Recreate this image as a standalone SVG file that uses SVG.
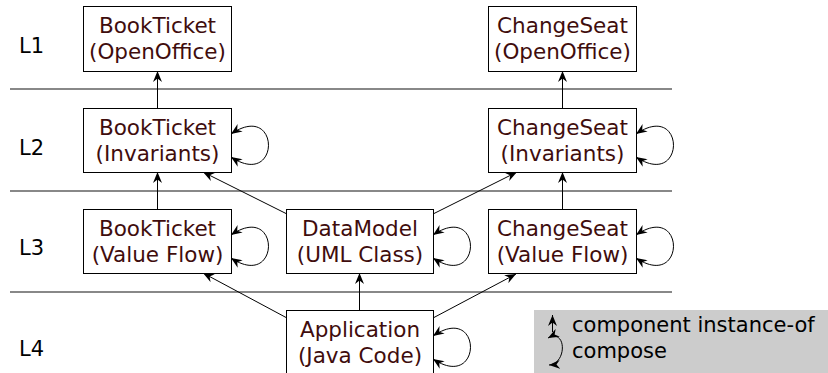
<svg xmlns="http://www.w3.org/2000/svg" width="828" height="373" viewBox="0 0 828 373">
<defs>
<marker id="ah" markerUnits="userSpaceOnUse" viewBox="0 0 11 9" refX="11" refY="4.5" markerWidth="11" markerHeight="9" orient="auto-start-reverse">
<path d="M0,0 L11,4.5 L0,9 L3.5,4.5 z" fill="#000"/>
</marker>
</defs>
<style>
.box{fill:#fff;stroke:#000;stroke-width:1}
.t{font-family:"DejaVu Sans",sans-serif;font-size:21.5px;fill:#3f0d0d;text-anchor:middle}
.lbl{font-family:"DejaVu Sans",sans-serif;font-size:21px;fill:#000}
.sep{stroke:#888;stroke-width:2}
.e{fill:none;stroke:#000;stroke-width:1;marker-end:url(#ah)}
.loop{fill:none;stroke:#000;stroke-width:1;marker-start:url(#ah);marker-end:url(#ah)}
</style>
<rect width="828" height="373" fill="#fff"/>
<g id="separators">
<line class="sep" x1="10" y1="89" x2="672" y2="89"/>
<line class="sep" x1="10" y1="191" x2="672" y2="191"/>
<line class="sep" x1="10" y1="292" x2="672" y2="292"/>
</g>
<g id="levels">
<text class="lbl" x="19" y="53">L1</text>
<text class="lbl" x="19" y="155">L2</text>
<text class="lbl" x="19" y="255">L3</text>
<text class="lbl" x="19" y="356">L4</text>
</g>
<g id="connectors">
<path class="e" d="M157.5,108 L157.5,71"/>
<path class="e" d="M562.5,108 L562.5,71"/>
<path class="e" d="M157.5,209 L157.5,172"/>
<path class="e" d="M562.5,209 L562.5,172"/>
<path class="e" d="M359.5,310 L359.5,273"/>
<path class="e" d="M287,214 L203,172"/>
<path class="e" d="M433,214 L517,172"/>
<path class="e" d="M287,318 L203,273"/>
<path class="e" d="M433,318 L516,274"/>
<path class="loop" d="M231,134 C281,100 281,190 231,157"/>
<path class="loop" d="M636,134 C686,100 686,190 636,157"/>
<path class="loop" d="M231,235 C281,201 281,291 231,258"/>
<path class="loop" d="M433,235 C483,201 483,291 433,258"/>
<path class="loop" d="M636,235 C686,201 686,291 636,258"/>
<path class="loop" d="M433,336 C483,302 483,392 433,359"/>
</g>
<g id="n_bt_oo"><rect class="box" x="83.5" y="6.5" width="148" height="65"/><text class="t" x="157.5" y="33">BookTicket</text><text class="t" x="157.5" y="59">(OpenOffice)</text></g>
<g id="n_cs_oo"><rect class="box" x="488.5" y="6.5" width="148" height="65"/><text class="t" x="562.5" y="33">ChangeSeat</text><text class="t" x="562.5" y="59">(OpenOffice)</text></g>
<g id="n_bt_inv"><rect class="box" x="83.5" y="108.5" width="148" height="64"/><text class="t" x="157.5" y="135">BookTicket</text><text class="t" x="157.5" y="161">(Invariants)</text></g>
<g id="n_cs_inv"><rect class="box" x="488.5" y="108.5" width="148" height="64"/><text class="t" x="562.5" y="135">ChangeSeat</text><text class="t" x="562.5" y="161">(Invariants)</text></g>
<g id="n_bt_vf"><rect class="box" x="83.5" y="209.5" width="148" height="64"/><text class="t" x="157.5" y="236">BookTicket</text><text class="t" x="157.5" y="262">(Value Flow)</text></g>
<g id="n_dm"><rect class="box" x="286.5" y="209.5" width="147" height="64"/><text class="t" x="360" y="236">DataModel</text><text class="t" x="360" y="262">(UML Class)</text></g>
<g id="n_cs_vf"><rect class="box" x="488.5" y="209.5" width="148" height="64"/><text class="t" x="562.5" y="236">ChangeSeat</text><text class="t" x="562.5" y="262">(Value Flow)</text></g>
<g id="n_app"><rect class="box" x="286.5" y="310.5" width="147" height="64"/><text class="t" x="360" y="337">Application</text><text class="t" x="360" y="363">(Java Code)</text></g>
<g id="legend">
<rect x="534" y="310" width="294" height="63" fill="#cccccc"/>
<path class="e" d="M552.5,332 L552.5,315"/>
<path class="loop" d="M548,338 C567,328 567,364 549,365"/>
<text class="lbl" x="572" y="332">component instance-of</text>
<text class="lbl" x="572" y="358">compose</text>
</g>
</svg>
